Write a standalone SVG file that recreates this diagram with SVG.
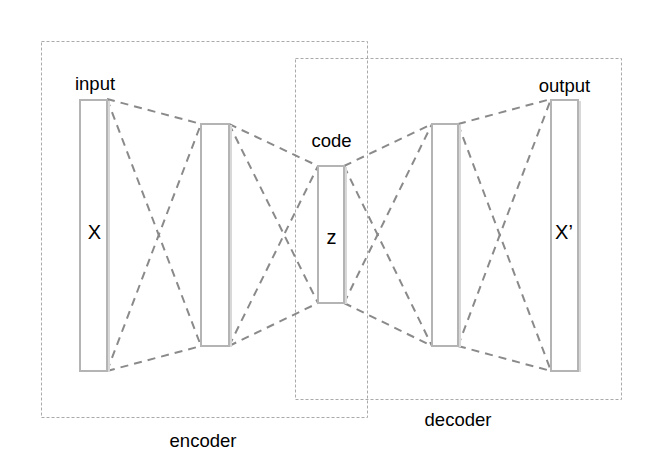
<svg xmlns="http://www.w3.org/2000/svg" width="656" height="465" viewBox="0 0 656 465">
<style>
.box{fill:none;stroke:#aaaaaa;stroke-width:1;stroke-dasharray:3 2}
.layer{fill:#ffffff;stroke:#b4b4b4;stroke-width:2}
.shadow{fill:none;stroke:#d8d8d8;stroke-width:2}
.conn{stroke:#8a8a8a;stroke-width:2;stroke-dasharray:8 6;fill:none}
.lbl{font-family:"Liberation Sans",Arial,sans-serif;font-size:18.5px;fill:#000;text-anchor:middle}
.big{font-family:"Liberation Sans",Arial,sans-serif;font-size:20px;fill:#000;text-anchor:middle}
</style>
<rect width="656" height="465" fill="#ffffff"/>
<g id="encoder">
<rect class="box" x="41.5" y="41.5" width="326" height="376"/>
<text class="lbl" x="203" y="447">encoder</text>
</g>
<g id="decoder">
<rect class="box" x="295.5" y="58.5" width="326" height="341"/>
<text class="lbl" x="458" y="426">decoder</text>
</g>
<g id="connectors">
<line class="conn" x1="107" y1="99" x2="201" y2="124"/>
<line class="conn" x1="107" y1="99" x2="201" y2="346"/>
<line class="conn" x1="107" y1="371" x2="201" y2="124"/>
<line class="conn" x1="107" y1="371" x2="201" y2="346"/>
<line class="conn" x1="229" y1="124" x2="318" y2="166"/>
<line class="conn" x1="229" y1="124" x2="318" y2="303"/>
<line class="conn" x1="229" y1="346" x2="318" y2="166"/>
<line class="conn" x1="229" y1="346" x2="318" y2="303"/>
<line class="conn" x1="344" y1="166" x2="432" y2="124"/>
<line class="conn" x1="344" y1="166" x2="432" y2="346"/>
<line class="conn" x1="344" y1="303" x2="432" y2="124"/>
<line class="conn" x1="344" y1="303" x2="432" y2="346"/>
<line class="conn" x1="458" y1="124" x2="551" y2="99"/>
<line class="conn" x1="458" y1="124" x2="551" y2="371"/>
<line class="conn" x1="458" y1="346" x2="551" y2="99"/>
<line class="conn" x1="458" y1="346" x2="551" y2="371"/>
</g>
<g id="input">
<rect class="layer" x="80" y="100" width="27" height="271"/>
<line class="shadow" x1="109" y1="101" x2="109" y2="372"/>
<text class="lbl" x="95" y="90">input</text>
<text class="big" x="94.5" y="239">X</text>
</g>
<g id="enc-hidden">
<rect class="layer" x="201" y="124" width="28" height="222"/>
<line class="shadow" x1="231" y1="125" x2="231" y2="347"/>
</g>
<g id="code">
<rect class="layer" x="318" y="166" width="26" height="137"/>
<line class="shadow" x1="346" y1="167" x2="346" y2="304"/>
<text class="lbl" x="331.5" y="147">code</text>
<text class="big" x="331.5" y="244">z</text>
</g>
<g id="dec-hidden">
<rect class="layer" x="432" y="124" width="26" height="222"/>
<line class="shadow" x1="460" y1="125" x2="460" y2="347"/>
</g>
<g id="output">
<rect class="layer" x="551" y="100" width="27" height="271"/>
<line class="shadow" x1="580" y1="101" x2="580" y2="372"/>
<text class="lbl" x="564.5" y="92">output</text>
<text class="big" x="564" y="239">X’</text>
</g>
</svg>
